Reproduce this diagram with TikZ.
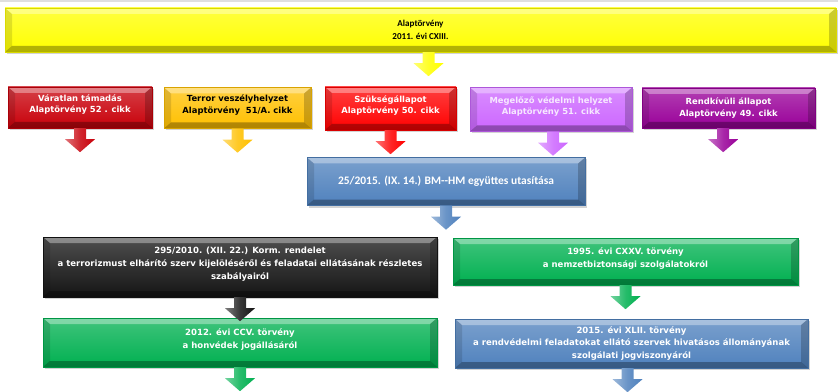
\documentclass[tikz,border=0pt]{standalone}
\usepackage{fontspec}
\setmainfont{DejaVu Sans}
\newfontfamily\calibri{Carlito}
\usetikzlibrary{calc,shadows}
\definecolor{sarga}{HTML}{FFFF00}
\definecolor{sotetpiros}{HTML}{C8000A}
\definecolor{piros}{HTML}{FF0000}
\definecolor{narancs}{HTML}{FFC000}
\definecolor{lila}{HTML}{CC66FF}
\definecolor{bibor}{HTML}{990099}
\definecolor{kek}{HTML}{4F81BD}
\definecolor{fekete}{HTML}{141414}
\definecolor{zold}{HTML}{00B050}

% bevelled edge of the boxes
\newcommand{\keret}{%
  \path (path picture bounding box.north west) coordinate (bnw)
        (path picture bounding box.south east) coordinate (bse)
        (bnw -| bse) coordinate (bne)
        (bse -| bnw) coordinate (bsw);
  \fill[white,opacity=.35] (bnw) -- (bne) -- ($(bne)+(-7,6)$) -- ($(bnw)+(7,6)$) -- cycle;
  \fill[black,opacity=.12] (bnw) -- ($(bnw)+(7,6)$) -- ($(bsw)+(7,-6)$) -- (bsw) -- cycle;
  \fill[black,opacity=.3] (bsw) -- ($(bsw)+(7,-6)$) -- ($(bse)+(-7,-6)$) -- (bse) -- cycle;
  \fill[black,opacity=.2] (bse) -- ($(bse)+(-7,-6)$) -- ($(bne)+(-7,6)$) -- (bne) -- cycle;
}

\tikzset{
  doboz/.style={top color=#1!75!white, bottom color=#1, draw=#1!85!black, line width=.3pt,
    inner sep=0pt, align=center, text=white, path picture={\keret},
    drop shadow={shadow xshift=1.2pt, shadow yshift=-1.5pt, opacity=.35}},
  meret/.style 2 args={minimum width=#1*0.75pt, minimum height=#2*0.75pt},
  kicsi/.style={font=\bfseries\fontsize{6.3}{8.6}\selectfont},
  apro/.style={font=\bfseries\fontsize{6.4}{9.6}\selectfont},
  feljebb/.style={text depth=6pt},
  pics/nyil/.style={code={
    \shade[left color=#1!55!white, right color=#1, middle color=#1!85!white]
      (-6,0) -- (6,0) -- (6,11) -- (15,11) -- (0,24) -- (-15,11) -- (-6,11) -- cycle;}}
}

\begin{document}
\begin{tikzpicture}[x=0.75pt, y=-0.75pt]
  \useasboundingbox (0,0) rectangle (838,392);
  \draw[gray!25, line width=1.5pt] (0,1) -- (838,1);

  % top
  \node[doboz=sarga, text=black, meret={831}{44},
        font=\calibri\bfseries\fontsize{6.8}{9.8}\selectfont] (alaptv) at (420.5,30)
        {Alaptörvény\\2011. évi CXIII.};
  \pic at ([xshift=6pt]alaptv.south) {nyil=sarga};

  % legal orders
  \node[doboz=sotetpiros, kicsi, feljebb, meret={144}{41}] (varatlan) at (80,107.5)
        {Váratlan támadás\\Alaptörvény 52 . cikk};
  \node[doboz=narancs, kicsi, feljebb, text=black, meret={147}{41}] (terror) at (237.5,108)
        {Terror veszélyhelyzet\\Alaptörvény\ \ 51/A. cikk};
  \node[doboz=piros, kicsi, feljebb, meret={131}{43}] (szukseg) at (390.5,108.5)
        {Szükségállapot\\Alaptörvény 50. cikk};
  \node[doboz=lila, kicsi, feljebb, text=white!85!lila, meret={162}{44}] (megelozo) at (551,109.5)
        {Megelőző védelmi helyzet\\Alaptörvény 51. cikk};
  \node[doboz=bibor, kicsi, meret={173}{40}] (rendkivuli) at (728.5,108)
        {Rendkívüli állapot\\Alaptörvény 49. cikk};
  \pic at (varatlan.south) {nyil=sotetpiros};
  \pic at (terror.south) {nyil=narancs};
  \pic at (szukseg.south) {nyil=piros};
  \pic at ([xshift=1.5pt]megelozo.south) {nyil=lila};
  \pic at ([xshift=-4pt]rendkivuli.south) {nyil=bibor};

  % joint instruction
  \node[doboz=kek, meret={278}{48},
        font=\calibri\bfseries\fontsize{8.6}{10}\selectfont] (utasitas) at (446,181.5)
        {25/2015. (IX. 14.) BM--HM együttes utasítása};
  \pic at (utasitas.south) {nyil=kek};

  % laws
  \node[doboz=fekete, apro, feljebb, meret={394}{60}] (kormrend) at (240,267)
        {295/2010. (XII. 22.) Korm. rendelet\\a terrorizmust elhárító szerv kijelöléséről és feladatai ellátásának részletes\\szabályairól};
  \node[doboz=zold, apro, feljebb, meret={345}{47}] (nbtv) at (625.5,261.5)
        {1995. évi CXXV. törvény\\a nemzetbiztonsági szolgálatokról};
  \node[doboz=zold, apro, feljebb, meret={394}{49}] (hvtv) at (240,342.5)
        {2012. évi CCV. törvény\\a honvédek jogállásáról};
  \node[doboz=kek, apro, meret={353}{49}] (hszttv) at (631.5,343.5)
        {2015. évi XLII. törvény\\a rendvédelmi feladatokat ellátó szervek hivatásos állományának\\szolgálati jogviszonyáról};
  \pic at (kormrend.south) {nyil=fekete};
  \pic at (nbtv.south) {nyil=zold};
  \pic at (hvtv.south) {nyil=zold};
  \pic at ([xshift=-3pt]hszttv.south) {nyil=kek};
\end{tikzpicture}
\end{document}
